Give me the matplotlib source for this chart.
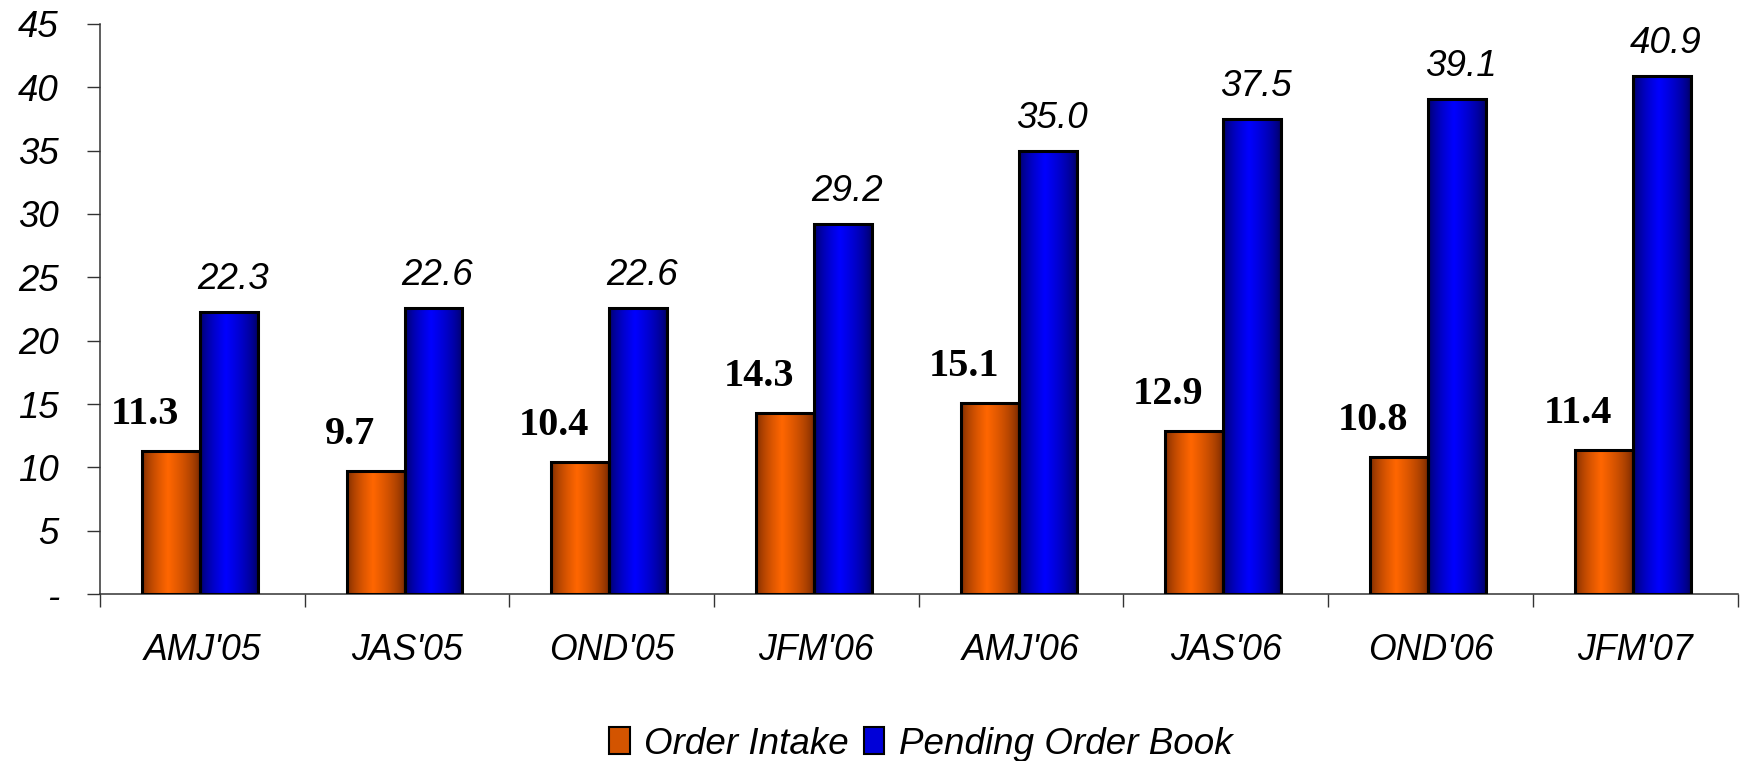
import matplotlib
matplotlib.use('Agg')
import matplotlib.pyplot as plt
import numpy as np
from matplotlib.colors import LinearSegmentedColormap
from matplotlib.patches import Patch

quarters = ["AMJ'05", "JAS'05", "OND'05", "JFM'06", "AMJ'06", "JAS'06", "OND'06", "JFM'07"]
order_intake = [11.3, 9.7, 10.4, 14.3, 15.1, 12.9, 10.8, 11.4]
pending_book = [22.3, 22.6, 22.6, 29.2, 35.0, 37.5, 39.1, 40.9]
y_ticks = [0, 5, 10, 15, 20, 25, 30, 35, 40, 45]
y_tick_labels = ['-', '5', '10', '15', '20', '25', '30', '35', '40', '45']

SANS = 'Liberation Sans'
SERIF = 'Liberation Serif'

orange_cmap = LinearSegmentedColormap.from_list('orange_shade', ['#6e2500', '#ff6600'])
blue_cmap = LinearSegmentedColormap.from_list('blue_shade', ['#000058', '#0000ff'])


def shade_profile(n=256, peak=0.45):
    # dark at both edges, brightest a little left of centre
    t = np.linspace(0, 1, n)
    left = np.clip(t / peak, 0, 1)
    right = np.clip((1 - t) / (1 - peak), 0, 1)
    return np.minimum(left, right) ** 0.6


def shaded_bars(ax, xs, heights, width, cmap):
    grad = shade_profile()[np.newaxis, :]
    bars = ax.bar(xs, heights, width, facecolor='none', edgecolor='black',
                  linewidth=2.2, zorder=3)
    for rect in bars:
        x0 = rect.get_x()
        ax.imshow(grad, extent=[x0, x0 + rect.get_width(), 0, rect.get_height()],
                  aspect='auto', cmap=cmap, vmin=0, vmax=1, zorder=2,
                  interpolation='bilinear')
    return bars


def main():
    fig = plt.figure(figsize=(17.41, 7.61), dpi=100)
    ax = fig.add_axes([0.0574, 0.2194, 0.9406, 0.7491])

    x = np.arange(len(quarters))
    w = 0.283
    shift = -0.012
    shaded_bars(ax, x - w / 2 + shift, order_intake, w, orange_cmap)
    shaded_bars(ax, x + w / 2 + shift, pending_book, w, blue_cmap)

    for xi, v in zip(x, order_intake):
        ax.annotate(f'{v:.1f}', (xi - w / 2 + shift, v), xytext=(-26, 27),
                    textcoords='offset pixels', ha='center', va='baseline',
                    fontsize=29, fontweight='bold', family=SERIF)
    for xi, v in zip(x, pending_book):
        ax.annotate(f'{v:.1f}', (xi + w / 2 + shift, v), xytext=(4, 23),
                    textcoords='offset pixels', ha='center', va='baseline',
                    fontsize=26.5, fontstyle='italic', family=SANS)

    ax.set_xlim(-0.5, len(quarters) - 0.5)
    ax.set_ylim(0, 45)

    # category boundaries get the tick marks, labels sit at the centres
    ax.set_xticks(np.arange(len(quarters) + 1) - 0.5)
    ax.set_xticklabels([])
    ax.set_xticks(x, minor=True)
    ax.set_xticklabels(quarters, minor=True, fontsize=25.7, fontstyle='italic', family=SANS)
    ax.tick_params(axis='x', which='major', direction='out', length=9.5, width=1, color='#333333')
    ax.tick_params(axis='x', which='minor', length=0, pad=28)

    ax.set_yticks(y_ticks)
    ax.set_yticklabels(y_tick_labels, fontsize=26.4, fontstyle='italic', family=SANS)
    ax.tick_params(axis='y', direction='out', length=9.5, width=1, color='#333333', pad=20)

    for side in ('top', 'right'):
        ax.spines[side].set_visible(False)
    for side in ('left', 'bottom'):
        ax.spines[side].set_color('#333333')
        ax.spines[side].set_linewidth(1.1)

    handles = [Patch(facecolor='#d35400', edgecolor='black', linewidth=1.5),
               Patch(facecolor='#0000d8', edgecolor='black', linewidth=1.5)]
    fig.legend(handles, ['Order Intake', 'Pending Order Book'], loc='center',
               bbox_to_anchor=(0.529, 0.022), ncol=2, frameon=False,
               prop={'family': SANS, 'style': 'italic', 'size': 26.5},
               handlelength=0.55, handleheight=0.75, handletextpad=0.4,
               columnspacing=0.4)

    fig.savefig('out.png', dpi=100)


if __name__ == '__main__':
    main()
